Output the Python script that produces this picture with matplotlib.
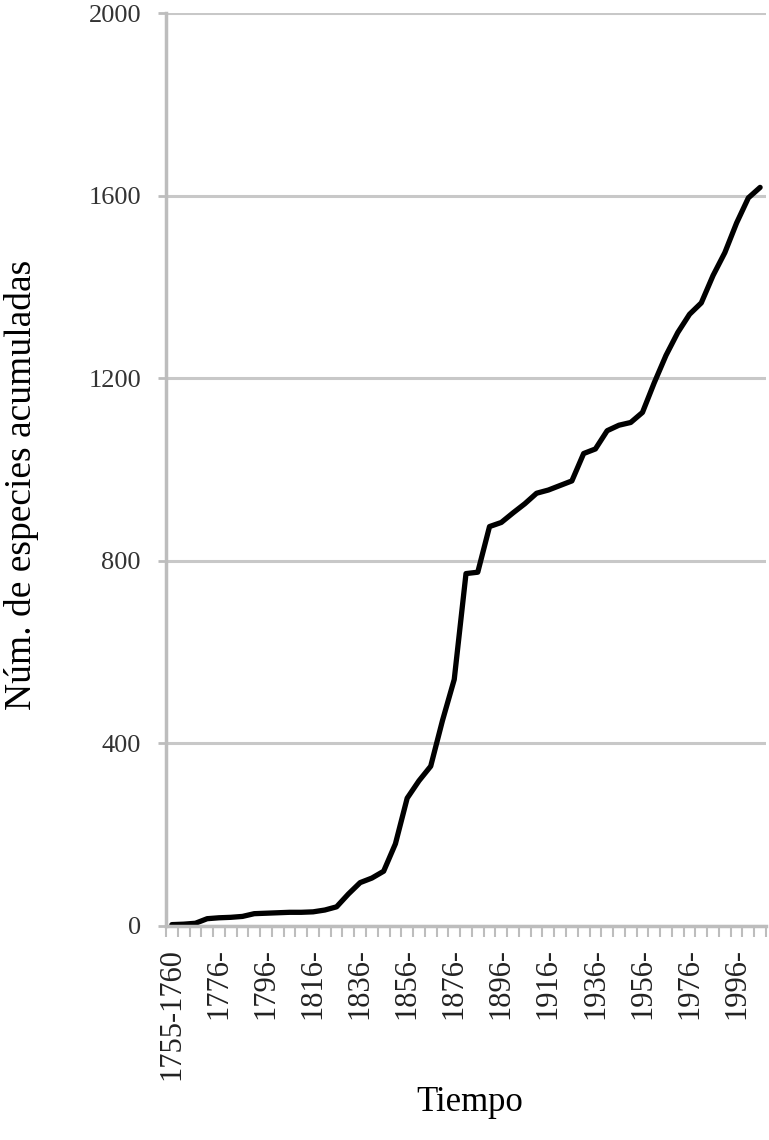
import matplotlib.pyplot as plt
import numpy as np

# cumulative number of species per 5-year period
start_years = [1755] + [1756 + 5 * i for i in range(1, 51)]
especies = [3, 4, 6, 16, 18, 19, 21, 27, 28, 29,
            30, 30, 31, 35, 42, 70, 95, 105, 120, 180,
            280, 318, 350, 450, 540, 772, 775, 875, 884, 905,
            925, 948, 955, 965, 975, 1035, 1045, 1085, 1097, 1103,
            1125, 1190, 1250, 1300, 1340, 1365, 1425, 1475, 1540, 1595,
            1618]
etiquetas = []
for i, y in enumerate(start_years):
    if i == 0:
        etiquetas.append('1755-1760')
    elif i % 4 == 0:
        etiquetas.append(str(y) + '-')
    else:
        etiquetas.append('')

plt.rcParams['font.family'] = ['Liberation Serif', 'DejaVu Serif']

fig = plt.figure(figsize=(7.69, 11.40), dpi=100)
ax = fig.add_axes([166 / 769, 1 - 926 / 1140, 600 / 769, 913 / 1140])

x = np.arange(len(especies))
ax.plot(x, especies, color='black', linewidth=3.8, solid_joinstyle='round',
        solid_capstyle='round')

ax.set_xlim(-0.5, len(especies) - 0.5)
ax.set_ylim(0, 2000)
ax.set_yticks(np.arange(0, 2001, 400))
ax.yaxis.grid(True, color='#c8c8c8', linewidth=2.2)
ax.set_axisbelow(True)

gris = '#bdbdbd'
for s in ['top', 'right']:
    ax.spines[s].set_visible(False)
ax.spines['left'].set_color(gris)
ax.spines['left'].set_linewidth(2.5)
ax.spines['bottom'].set_color(gris)
ax.spines['bottom'].set_linewidth(2.5)

ax.tick_params(axis='y', length=6, width=2, color=gris, labelsize=19,
               labelcolor='#333333', pad=12)
ax.set_xticks(x)
ax.set_xticklabels(etiquetas, rotation=90, va='top', ha='center')
ax.set_xticks(np.arange(-0.5, len(especies), 1), minor=True)
ax.tick_params(axis='x', which='major', length=0, labelsize=22,
               labelcolor='#222222', pad=16)
ax.tick_params(axis='x', which='minor', length=8, width=1.5, color=gris)

fig.text(0.611, 0.018, 'Tiempo', fontsize=25, ha='center', va='bottom')
fig.text(0.028, 0.575, 'Núm. de especies acumuladas', fontsize=27,
         rotation=90, ha='center', va='center')

fig.savefig('out.png', dpi=100)
